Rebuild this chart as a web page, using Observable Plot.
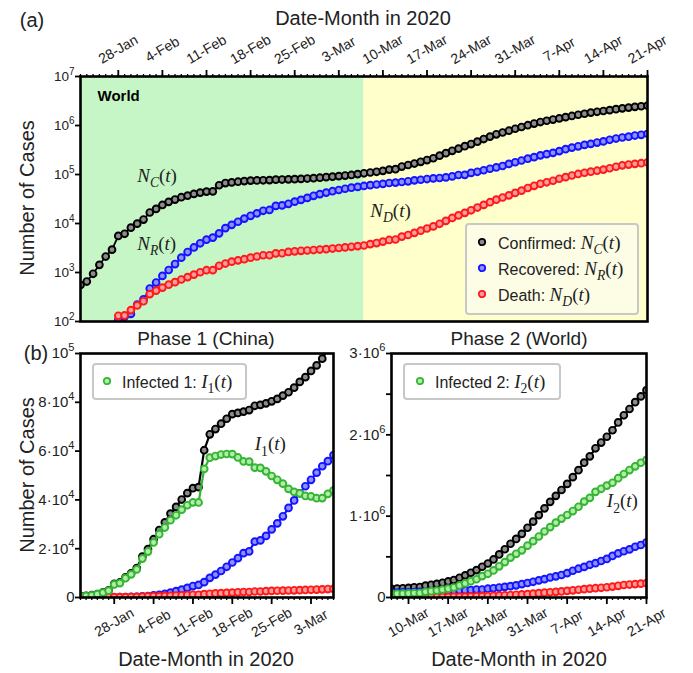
<!DOCTYPE html>
<html><head><meta charset="utf-8">
<script src="https://cdn.jsdelivr.net/npm/d3@7"></script>
<script src="https://cdn.jsdelivr.net/npm/@observablehq/plot@0.6"></script>
<style>
body{margin:0;background:#fff;}
#root{position:relative;width:693px;height:673px;font-family:"Liberation Sans",Arial,Helvetica,sans-serif;color:#222;overflow:hidden;background:#fff}
#root svg{position:absolute;overflow:visible}
.lbl{position:absolute;white-space:nowrap;line-height:1;transform:translate(-50%,-50%)}
.rot{transform:translate(-50%,-50%) rotate(-90deg)}
.m{font-family:"Liberation Serif","Times New Roman",serif;font-style:italic}
.r{font-family:"Liberation Serif","Times New Roman",serif;font-style:normal}
.sub{font-size:72%;position:relative;top:0.35em}
.legend{position:absolute;border:2px solid #c8c8c8;border-radius:4px;box-sizing:border-box}
.row{position:absolute;white-space:nowrap;line-height:1;transform:translateY(-50%);font-size:16px}
.row .mm{font-size:19px}
.mk{position:absolute;overflow:visible}
</style></head><body><div id="root"></div><script>
// ---------------- data (daily, 22-Jan-2020 .. 21-Apr-2020) ----------------
const confirmed = [
  555,654,941,1434,2118,2927,5578,6166,8234,9927,
  12038,16787,19881,23892,27635,30794,34391,37120,40150,42762,44802,45221,60368,66885,69030,71224,73258,75136,75639,76197,76819,78572,78958,79561,80406,81388,82746,84112,86011,
  88369,90306,92840,95120,97886,101801,105847,109821,113590,118620,125875,128352,145205,156101,167454,181574,197102,214821,242570,272208,304507,336953,378235,418045,467653,529591,593291,660706,720117,782365,857487,
  932605,1013157,1095917,1176060,1249754,1321481,1396476,1479804,1565278,1657526,1735650,1834721,1904838,1976191,2056054,2152437,2240190,2317758,2401378,2472259,2549123
];
const recovered = [
  28,30,36,39,52,61,107,126,143,222,
  284,472,623,852,1124,1487,2011,2616,3244,3946,4683,5150,6295,8058,9395,10865,12583,14352,16121,18177,18890,22886,23394,25227,27905,30384,33277,36711,39782,
  42716,45602,48228,51170,53796,55865,58358,60694,62494,64404,67003,68324,70251,72624,76034,78088,80840,83207,84854,87256,91499,97704,98341,107890,113604,122150,130915,139415,149082,164566,178034,
  193177,210263,225796,246152,260012,276515,300054,328661,353975,376096,402110,421722,448655,474261,511019,542107,568343,591388,623903,645738,679819
];
const deaths = [
  17,18,26,42,56,82,131,133,171,213,
  259,362,426,492,564,634,719,806,906,1013,1113,1118,1371,1523,1666,1770,1868,2007,2122,2247,2251,2458,2469,2629,2708,2770,2814,2872,2941,
  2996,3085,3160,3254,3348,3460,3558,3802,3988,4262,4615,4720,5404,5819,6440,7126,7905,8733,9867,11299,12973,14623,16497,18615,21181,23970,27198,30652,33925,37582,42107,
  46809,52983,58787,64606,69374,74565,81865,88338,95455,102525,108502,114090,119482,125984,134176,143800,153822,159510,165044,169985,176583
];
const infected = [
  510,606,879,1353,2010,2784,5340,5907,7920,9492,
  11495,15953,18832,22548,25947,28673,31661,33698,36000,37803,39006,38953,52702,57304,57969,58589,58807,58777,57396,55773,55678,53228,53095,51705,49793,48234,46655,44529,43288,
  42657,41619,41452,40696,40742,42476,43931,45325,47108,49954,54257,55308,69550,77658,84980,96360,108357,122881,147849,173653,200035,224626,263397,291540,332868,383471,435178,490639,537110,580217,637346,
  692619,749911,811334,865302,920368,970401,1014557,1062805,1115848,1178905,1225038,1298909,1336701,1375946,1410859,1466530,1518025,1566860,1612431,1656536,1692721
];
const firstDay = "22-Jan-2020";
const lastDay = "21-Apr-2020";
const phaseSplitDay = "7-Mar-2020";
const weekLabels = ["28-Jan","4-Feb","11-Feb","18-Feb","25-Feb","3-Mar","10-Mar","17-Mar","24-Mar","31-Mar","7-Apr","14-Apr","21-Apr"];
const phase1WeekLabels = ["28-Jan","4-Feb","11-Feb","18-Feb","25-Feb","3-Mar"];
const phase2WeekLabels = ["10-Mar","17-Mar","24-Mar","31-Mar","7-Apr","14-Apr","21-Apr"];
const topYTicks = [1e2,1e3,1e4,1e5,1e6,1e7];
const topYLabels = ["10^2","10^3","10^4","10^5","10^6","10^7"];
const p1YTicks = [0,2e4,4e4,6e4,8e4,1e5];
const p1YLabels = ["0","2·10^4","4·10^4","6·10^4","8·10^4","10^5"];
const p2YTicks = [0,5e5,1e6,1.5e6,2e6,2.5e6,3e6];
const p2YLabels = ["0","","1·10^6","","2·10^6","","3·10^6"];
const seriesNames = ["Confirmed","Recovered","Death"];
// ---------------------------------------------------------------------------
const parse = d3.utcParse("%d-%b-%Y");
const d0 = parse(firstDay), d1 = parse(lastDay), dSplit = parse(phaseSplitDay);
const dates = d3.utcDay.range(d0, d3.utcDay.offset(d1, 1));
const rows = dates.map((date, i) => ({date, confirmed: confirmed[i], recovered: recovered[i], deaths: deaths[i], infected: infected[i]}));
const wk = labels => labels.map(l => parse(l + "-2020"));
const SANS = "'Liberation Sans', Arial, Helvetica, sans-serif";
const SERIF = "'Liberation Serif', 'Times New Roman', serif";
const COL = {
  confirmed: {stroke: "#000000", fill: "#8c8c8c"},
  recovered: {stroke: "#1414ff", fill: "#8f8fff"},
  deaths: {stroke: "#ff1a1a", fill: "#ff9c9c"},
  infected: {stroke: "#36b436", fill: "#b0eea6"}
};
function series(data, key, lw = 1.8) {
  const c = COL[key];
  return [
    Plot.line(data, {x: "date", y: key, stroke: c.stroke, strokeWidth: lw, clip: true}),
    Plot.dot(data, {x: "date", y: key, r: 3.4, stroke: c.stroke, fill: c.fill, strokeWidth: 1.9, clip: true})
  ];
}
const style = {fontFamily: SANS, background: "transparent", overflow: "visible", color: "#000"};
function yLabels(ticks, labels) {
  const lab = new Map(ticks.map((t, i) => [t, labels[i]]));
  return Plot.text(ticks.filter(t => lab.get(t)), {y: d => d, text: d => lab.get(d), frameAnchor: "left", dx: -6, textAnchor: "end", lineAnchor: "middle", fill: "#222"});
}

// ---- panel (a) ----
const phases = [{start: d0, end: dSplit, color: "#c6f6c6"}, {start: dSplit, end: d1, color: "#ffffcc"}];
const topAnn = [
  {date: parse("31-Jan-2020"), v: 9.5e4, t: "N_C(t)"},
  {date: parse("31-Jan-2020"), v: 3.9e3, t: "N_R(t)"},
  {date: parse("8-Mar-2020"), v: 1.85e4, t: "N_D(t)"}
];
const topWeeks = wk(weekLabels);
const chartA = Plot.plot({
  width: 693, height: 330, marginTop: 76, marginLeft: 80, marginRight: 46, marginBottom: 9,
  style,
  x: {type: "utc", domain: [d0, d1], axis: null, label: null},
  y: {type: "log", domain: [1e2, 1e7], axis: null, label: null},
  marks: [
    Plot.rect(phases, {x1: "start", x2: "end", fill: "color"}),
    Plot.axisX({anchor: "top", ticks: dates, tickSize: 3, tickFormat: () => "", strokeWidth: 1.3, label: null}),
    Plot.axisX({anchor: "top", ticks: topWeeks, tickSize: 7, tickFormat: () => "", strokeWidth: 1.8, label: null}),
    Plot.text(topWeeks, {x: d => d, text: (d, i) => weekLabels[i], frameAnchor: "top", dy: -27, rotate: -30, textAnchor: "middle", lineAnchor: "middle", fill: "#222"}),
    Plot.axisY({anchor: "left", ticks: topYTicks, tickSize: 5, tickFormat: () => "", strokeWidth: 1.8, label: null}),
    yLabels(topYTicks, topYLabels),
    ...series(rows, "confirmed"),
    ...series(rows, "recovered"),
    ...series(rows, "deaths"),
    Plot.text(topAnn, {x: "date", y: "v", text: "t", textAnchor: "start", lineAnchor: "middle", fontSize: 19, fill: "#222"}),
    Plot.text(["World"], {frameAnchor: "top-left", dx: 17, dy: 20, text: d => d, textAnchor: "start", lineAnchor: "middle", fontWeight: "bold", fontSize: 15, fill: "#000"}),
    Plot.frame({stroke: "#000", strokeWidth: 2.6})
  ]
});

// ---- panel (b) ----
function bottomPlot(cfg) {
  const days = d3.utcDay.range(cfg.domain[0], d3.utcDay.offset(cfg.domain[1], 1));
  const weeks = wk(cfg.weekLabels);
  return Plot.plot({
    width: cfg.width, height: 343, marginTop: 23, marginBottom: 76, marginLeft: cfg.ml, marginRight: cfg.mr,
    style,
    x: {type: "utc", domain: cfg.domain, axis: null, label: null},
    y: {domain: cfg.yDomain, axis: null, label: null},
    marks: [
      Plot.axisX({anchor: "bottom", ticks: days, tickSize: 3, tickFormat: () => "", strokeWidth: 1.3, label: null}),
      Plot.axisX({anchor: "bottom", ticks: weeks, tickSize: 7, tickFormat: () => "", strokeWidth: 1.8, label: null}),
      Plot.text(weeks, {x: d => d, text: (d, i) => cfg.weekLabels[i], frameAnchor: "bottom", dy: 25, rotate: -30, textAnchor: "middle", lineAnchor: "middle", fill: "#222"}),
      Plot.axisY({anchor: "left", ticks: cfg.yTicks, tickSize: 5, tickFormat: () => "", strokeWidth: 1.8, label: null}),
      yLabels(cfg.yTicks, cfg.yLabels),
      ...series(cfg.rows, "confirmed", 2.2),
      ...series(cfg.rows, "recovered", 2.2),
      ...series(cfg.rows, "deaths", 2.2),
      ...series(cfg.rows, "infected", 2.2),
      Plot.text(cfg.ann, {x: "date", y: "v", text: "t", textAnchor: "start", lineAnchor: "middle", fontSize: 19, fill: "#222"}),
      Plot.frame({stroke: "#000", strokeWidth: 2.6})
    ]
  });
}
const chartB1 = bottomPlot({
  width: 350, ml: 80, mr: 17, domain: [d0, dSplit], yDomain: [0, 1e5],
  rows: rows.filter(r => r.date <= dSplit), yTicks: p1YTicks, yLabels: p1YLabels,
  weekLabels: phase1WeekLabels, ann: [{date: parse("22-Feb-2020"), v: 6.3e4, t: "I_1(t)"}]
});
const chartB2 = bottomPlot({
  width: 353, ml: 51, mr: 47, domain: [dSplit, d1], yDomain: [0, 3e6],
  rows: rows.filter(r => r.date >= dSplit), yTicks: p2YTicks, yLabels: p2YLabels,
  weekLabels: phase2WeekLabels, ann: [{date: parse("14-Apr-2020"), v: 1.19e6, t: "I_2(t)"}]
});

// ---- text post-processing: sizes, superscripts and math ----
const NS = "http://www.w3.org/2000/svg";
const MATH = {
  "N_C(t)": [["N", "i"], ["C", "sub"], ["(", "r"], ["t", "i"], [")", "r"]],
  "N_R(t)": [["N", "i"], ["R", "sub"], ["(", "r"], ["t", "i"], [")", "r"]],
  "N_D(t)": [["N", "i"], ["D", "sub"], ["(", "r"], ["t", "i"], [")", "r"]],
  "I_1(t)": [["I", "i"], ["1", "subr"], ["(", "r"], ["t", "i"], [")", "r"]],
  "I_2(t)": [["I", "i"], ["2", "subr"], ["(", "r"], ["t", "i"], [")", "r"]]
};
const weekSet = new Set(weekLabels);
function fix(svg, ySize) {
  d3.select(svg).selectAll("text").each(function() {
    if (this.querySelector("tspan")) return;
    const t = this.textContent;
    if (MATH[t]) {
      this.textContent = "";
      let shift = 0;
      for (const [s, k] of MATH[t]) {
        const ts = document.createElementNS(NS, "tspan");
        ts.textContent = s;
        ts.setAttribute("font-family", SERIF);
        ts.setAttribute("font-style", (k === "r" || k === "subr") ? "normal" : "italic");
        if (k === "sub" || k === "subr") {
          ts.setAttribute("font-size", "72%");
          ts.setAttribute("dy", (0.3 / 0.72).toFixed(3) + "em");
          shift = 0.3;
        } else if (shift) {
          ts.setAttribute("dy", (-shift) + "em");
          shift = 0;
        }
        this.appendChild(ts);
      }
    } else if (weekSet.has(t)) {
      this.style.fontSize = "14px";
      this.style.textAnchor = "middle";
    } else if (t === "0" || /\^/.test(t)) {
      this.style.fontSize = ySize + "px";
      this.style.textAnchor = "end";
      const m = /^(.*)\^(\d+)$/.exec(t);
      if (m) {
        this.textContent = m[1];
        const ts = document.createElementNS(NS, "tspan");
        ts.textContent = m[2];
        ts.setAttribute("font-size", "74%");
        ts.setAttribute("dy", "-0.62em");
        this.appendChild(ts);
      }
    }
  });
}
fix(chartA, 13.5); fix(chartB1, 15); fix(chartB2, 15);

const root = document.getElementById("root");
chartA.style.left = "0px"; chartA.style.top = "0px";
chartB1.style.left = "0px"; chartB1.style.top = "330px";
chartB2.style.left = "340px"; chartB2.style.top = "330px";
root.append(chartA, chartB1, chartB2);

// ---- titles and labels ----
function label(text, x, y, size, extra = "") {
  const el = document.createElement("div");
  el.className = "lbl " + extra;
  el.style.left = x + "px"; el.style.top = y + "px"; el.style.fontSize = size + "px";
  el.textContent = text;
  root.appendChild(el);
}
label("(a)", 32, 20, 20);
label("Date-Month in 2020", 363, 18, 20);
label("Number of Cases", 27, 198, 20, "rot");
label("(b)", 36, 353, 20);
label("Phase 1 (China)", 206, 338, 19);
label("Phase 2 (World)", 519, 338, 19);
label("Number of Cases", 27, 475, 20, "rot");
label("Date-Month in 2020", 206, 659, 20);
label("Date-Month in 2020", 519, 659, 20);

// ---- legends ----
function mathHTML(main, sub) {
  return `<span class="m">${main}</span><span class="${/\d/.test(sub) ? "r" : "m"} sub">${sub}</span><span class="r">(</span><span class="m">t</span><span class="r">)</span>`;
}
function legend(box, entries) {
  const el = document.createElement("div");
  el.className = "legend";
  Object.assign(el.style, {left: box.x + "px", top: box.y + "px", width: box.w + "px", height: box.h + "px", background: box.bg});
  for (const e of entries) {
    const c = COL[e.key];
    const mk = document.createElementNS(NS, "svg");
    mk.setAttribute("class", "mk");
    mk.setAttribute("width", 10); mk.setAttribute("height", 10);
    mk.style.left = (e.mx - 5) + "px"; mk.style.top = (e.y - 5) + "px";
    const ci = document.createElementNS(NS, "circle");
    ci.setAttribute("cx", 5); ci.setAttribute("cy", 5); ci.setAttribute("r", 3.2);
    ci.setAttribute("fill", c.fill); ci.setAttribute("stroke", c.stroke); ci.setAttribute("stroke-width", 1.8);
    mk.appendChild(ci);
    el.appendChild(mk);
    const tx = document.createElement("div");
    tx.className = "row";
    tx.style.left = e.tx + "px"; tx.style.top = e.y + "px";
    tx.innerHTML = `${e.label}: <span class="mm">${mathHTML(e.main, e.sub)}</span>`;
    el.appendChild(tx);
  }
  root.appendChild(el);
}
legend({x: 465, y: 223, w: 174, h: 92, bg: "#fdfde6"}, [
  {key: "confirmed", label: seriesNames[0], main: "N", sub: "C", mx: 15, tx: 31, y: 17},
  {key: "recovered", label: seriesNames[1], main: "N", sub: "R", mx: 15, tx: 31, y: 43},
  {key: "deaths", label: seriesNames[2], main: "N", sub: "D", mx: 15, tx: 31, y: 69}
]);
legend({x: 92, y: 363, w: 155, h: 37, bg: "#ffffff"}, [
  {key: "infected", label: "Infected 1", main: "I", sub: "1", mx: 13, tx: 28, y: 16}
]);
legend({x: 403, y: 363, w: 158, h: 37, bg: "#ffffff"}, [
  {key: "infected", label: "Infected 2", main: "I", sub: "2", mx: 15, tx: 30, y: 16}
]);
</script></body></html>
